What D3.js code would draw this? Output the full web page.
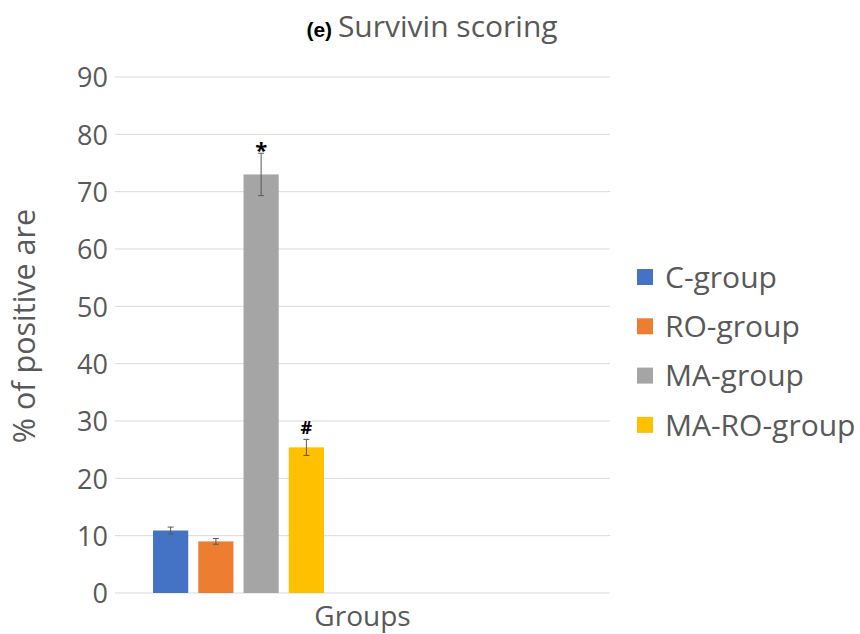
<!DOCTYPE html>
<html><head><meta charset="utf-8">
<script src="https://cdn.jsdelivr.net/npm/d3@7"></script>
<style>body{margin:0;background:#fff}text{font-family:"Open Sans",sans-serif}</style>
</head><body><svg id="c" width="860" height="634"></svg>
<script>
const categories = ["Groups"];
const series = ["C-group","RO-group","MA-group","MA-RO-group"];
const values = [10.9, 9.0, 73.0, 25.4];
const errors = [0.6, 0.5, 3.7, 1.4];
const marks = ["", "", "*", "#"];
const colors = ["#4472C4","#ED7D31","#A5A5A5","#FFC000"];
const yTicks = [0,10,20,30,40,50,60,70,80,90];

const FONT = "'Open Sans',sans-serif";
const svg = d3.select("#c");
const y = d3.scaleLinear().domain([0,90]).range([593,77]);
const x0 = d3.scaleBand().domain(categories).range([115,610]);
const x1 = d3.scaleBand().domain(series).range([148,329]).paddingInner(0.222).paddingOuter(0.111);

// gridlines
svg.append("g").selectAll("line").data(yTicks).join("line")
  .attr("x1",x0.range()[0]).attr("x2",x0.range()[1])
  .attr("y1",d=>y(d)).attr("y2",d=>y(d))
  .attr("stroke","#d9d9d9").attr("stroke-width",1);

// y axis labels
const yAxis = d3.axisLeft(y).tickValues(yTicks).tickSize(0).tickPadding(0);
const ga = svg.append("g").attr("transform","translate(108,0)").call(yAxis);
ga.select(".domain").remove();
ga.selectAll("text").attr("font-size",27).attr("fill","#595959").attr("font-family",FONT).attr("dy","0.36em");

// bars
const data = series.map((s,i)=>({s,v:values[i],e:errors[i],m:marks[i],c:colors[i]}));
svg.append("g").selectAll("rect").data(data).join("rect")
  .attr("x",d=>x1(d.s)).attr("width",x1.bandwidth())
  .attr("y",d=>y(d.v)).attr("height",d=>y(0)-y(d.v))
  .attr("fill",d=>d.c);

// error bars
const eb = svg.append("g").attr("stroke","#595959").attr("stroke-width",1);
data.forEach(d=>{
  const cx = x1(d.s)+x1.bandwidth()/2;
  eb.append("line").attr("x1",cx).attr("x2",cx).attr("y1",y(d.v+d.e)).attr("y2",y(d.v-d.e));
  eb.append("line").attr("x1",cx-3).attr("x2",cx+3).attr("y1",y(d.v+d.e)).attr("y2",y(d.v+d.e));
  eb.append("line").attr("x1",cx-3).attr("x2",cx+3).attr("y1",y(d.v-d.e)).attr("y2",y(d.v-d.e));
});

// significance marks
svg.append("g").selectAll("text").data(data.filter(d=>d.m)).join("text")
  .attr("x",d=>x1(d.s)+x1.bandwidth()/2)
  .attr("y",d=>y(d.v+d.e)-5)
  .attr("text-anchor","middle").attr("font-size",d=>d.m==="*"?22:18).attr("font-weight","bold").attr("fill","#000")
  .attr("font-family","'Liberation Sans',Arial,sans-serif")
  .attr("dy",d=>d.m==="*"?"0.45em":"0")
  .text(d=>d.m);

// x axis label
svg.append("text").attr("x",x0("Groups")+x0.bandwidth()/2).attr("y",626)
  .attr("text-anchor","middle").attr("font-size",28).attr("fill","#595959").text(categories[0]);

// y axis title
svg.append("text").attr("transform","translate(35,326) rotate(-90)")
  .attr("text-anchor","middle").attr("font-size",30.5).attr("fill","#595959").text("% of positive are");

// title
const t = svg.append("text").attr("x",432).attr("y",37).attr("text-anchor","middle");
t.append("tspan").attr("font-size",21).attr("font-weight","bold").attr("fill","#000").attr("font-family","'Liberation Sans Narrow','Liberation Sans',Arial,sans-serif").text("(e) ");
t.append("tspan").attr("font-size",30).attr("fill","#595959").text("Survivin scoring");

// legend
const lg = svg.append("g").selectAll("g").data(data).join("g")
  .attr("transform",(d,i)=>`translate(637,${277+i*49.3})`);
lg.append("rect").attr("x",0).attr("y",-8).attr("width",16).attr("height",16).attr("fill",d=>d.c);
lg.append("text").attr("x",28).attr("y",0).attr("dy","0.36em").attr("font-size",30).attr("fill","#595959").text(d=>d.s);
</script></body></html>
